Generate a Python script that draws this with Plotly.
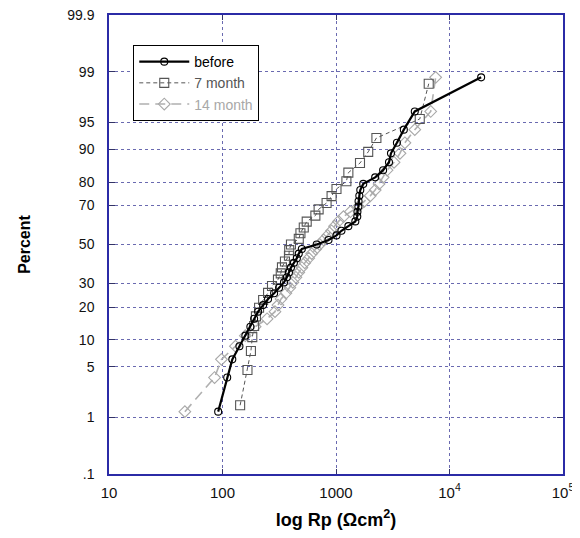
import plotly.graph_objects as go
from statistics import NormalDist

# ---- data ----
before_rp = [91.6, 110, 122, 141, 159, 176, 190, 206, 228, 252, 285, 315, 348, 369, 385, 401,
             426, 452, 470, 500, 676, 859, 1010, 1117, 1285, 1480, 1540, 1545, 1575, 1580, 1605,
             1637, 1738, 2213, 2600, 2930, 3050, 3440, 3960, 4945, 19000]
before_pct = [1.22, 3.66, 6.10, 8.54, 10.98, 13.41, 15.85, 18.29, 20.73, 23.17, 25.61, 28.05,
              30.49, 32.93, 35.37, 37.80, 40.24, 42.68, 45.12, 47.56, 50.00, 52.44, 54.88, 57.32,
              59.76, 62.20, 64.63, 67.07, 69.51, 71.95, 74.39, 76.83, 79.27, 81.71, 84.15, 86.59,
              89.02, 91.46, 93.90, 96.34, 98.78]

m7_rp = [143, 166, 178, 183, 190, 197, 210, 228, 252, 273, 308, 326, 334, 355, 385, 387, 401,
         470, 486, 520, 552, 658, 703, 826, 914, 1010, 1235, 1285, 1627, 1922, 2270, 5470, 6560]
m7_pct = [1.52, 4.55, 7.58, 10.61, 13.64, 16.67, 19.70, 22.73, 25.76, 28.79, 31.82, 34.85,
          37.88, 40.91, 43.94, 46.97, 50.00, 53.03, 56.06, 59.09, 62.12, 65.15, 68.18, 71.21,
          74.24, 77.27, 80.30, 83.33, 86.36, 89.39, 92.42, 95.45, 98.48]

m14_rp = [46.6, 85.1, 97.9, 130, 159, 194, 247, 290, 308, 328, 362, 392, 417, 443, 470, 500,
          531, 575, 611, 662, 718, 778, 843, 914, 971, 1052, 1164, 1340, 1575, 1775, 2002, 2213,
          2398, 2600, 2818, 3245, 3660, 4045, 4945, 6830, 7550]
m14_pct = before_pct

y_ticks = [0.1, 1, 5, 10, 20, 30, 50, 70, 80, 90, 95, 99, 99.9]
y_ticktext = [".1", "1", "5", "10", "20", "30", "50", "70", "80", "90", "95", "99", "99.9"]
x_ticks = [10, 100, 1000, 10000, 100000]
x_ticktext = ["10", "100", "1000", "10<sup>4</sup>", "10<sup>5</sup>"]

nd = NormalDist()
def z(p):
    return [nd.inv_cdf(v / 100.0) for v in p]

y_tick_pos = z(y_ticks)
y_range = [min(y_tick_pos) - 1e-6, max(y_tick_pos) + 1e-6]

FONT = "Liberation Sans, Arial, sans-serif"
AXIS = "#2b2ba6"
GRID = "#6a6ab0"

fig = go.Figure()
fig.add_trace(go.Scatter(
    x=m14_rp, y=z(m14_pct), mode="lines+markers",
    name="<span style='color:#a8a8a8'>14 month</span>",
    line=dict(color="#b0b0b0", width=1.6, dash="10px,6px"),
    marker=dict(symbol="diamond-open", size=9, color="#a8a8a8", line=dict(width=1.1))))
fig.add_trace(go.Scatter(
    x=m7_rp, y=z(m7_pct), mode="lines+markers",
    name="<span style='color:#555555'>7 month</span>",
    line=dict(color="#555555", width=1, dash="4px,3px"),
    marker=dict(symbol="square-open", size=9, color="#555555", line=dict(width=1.1))))
fig.add_trace(go.Scatter(
    x=before_rp, y=z(before_pct), mode="lines+markers", name="before",
    line=dict(color="#000000", width=2.2),
    marker=dict(symbol="circle-open", size=7, color="#000000", line=dict(width=1.1))))

fig.update_layout(
    width=564, height=522,
    margin=dict(l=100.5, r=9, t=7, b=56),
    paper_bgcolor="white", plot_bgcolor="white",
    font=dict(family=FONT, size=14, color="#111111"),
    showlegend=True,
    legend=dict(x=0.053, y=0.935, xanchor="left", yanchor="top",
                bgcolor="white", bordercolor="#000000", borderwidth=1.2,
                font=dict(family=FONT, size=14, color="#000000"),
                traceorder="reversed", itemwidth=50, tracegroupgap=0),
)
fig.update_xaxes(
    type="log", range=[1, 5], automargin=False, ticklabeloverflow="allow",
    tickvals=x_ticks, ticktext=x_ticktext,
    tickfont=dict(family=FONT, size=15, color="#111111"),
    showline=True, linecolor=AXIS, linewidth=1.5, mirror="ticks",
    ticks="inside", ticklen=5, tickcolor="#333366",
    showgrid=True, gridcolor=GRID, griddash="dot", gridwidth=1,
    zeroline=False, ticklabelstandoff=4,
    title=dict(text="<b>log Rp (Ωcm<sup>2</sup>)</b>", font=dict(family=FONT, size=18, color="#000000"),
               standoff=16),
)
fig.update_yaxes(
    range=y_range, automargin=False, ticklabeloverflow="allow",
    tickvals=y_tick_pos, ticktext=y_ticktext,
    tickfont=dict(family=FONT, size=14, color="#111111"),
    showline=True, linecolor=AXIS, linewidth=1.5, mirror="ticks",
    ticks="inside", ticklen=6, tickcolor="#333366",
    showgrid=True, gridcolor=GRID, griddash="dot", gridwidth=1,
    zeroline=False, ticklabelstandoff=10,
    title=dict(text="<b>Percent</b>", font=dict(family=FONT, size=16, color="#000000"),
               standoff=33),
)

fig.write_html("out.html")
